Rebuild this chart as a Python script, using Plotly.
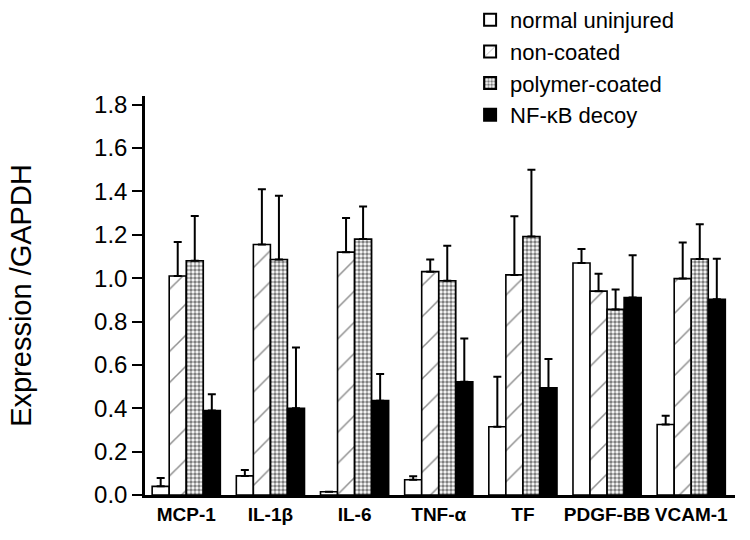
import plotly.graph_objects as go

categories = ["<b>MCP-1</b>", "<b>IL-1β</b>", "<b>IL-6</b>", "<b>TNF-α</b>", "<b>TF</b>", "<b>PDGF-BB</b>", "<b>VCAM-1</b>"]
series_names = ["normal uninjured", "non-coated", "polymer-coated", "NF-κB decoy"]

normal = [0.04, 0.088, 0.015, 0.07, 0.315, 1.07, 0.325]
normal_err = [0.038, 0.027, 0.0, 0.017, 0.23, 0.065, 0.04]
noncoated = [1.01, 1.155, 1.12, 1.03, 1.015, 0.94, 0.998]
noncoated_err = [0.157, 0.255, 0.157, 0.056, 0.27, 0.08, 0.166]
polymer = [1.08, 1.086, 1.18, 0.988, 1.192, 0.856, 1.088]
polymer_err = [0.207, 0.294, 0.15, 0.161, 0.308, 0.092, 0.161]
decoy = [0.39, 0.40, 0.435, 0.522, 0.494, 0.911, 0.903]
decoy_err = [0.075, 0.28, 0.123, 0.2, 0.133, 0.195, 0.187]

values = [normal, noncoated, polymer, decoy]
errors = [normal_err, noncoated_err, polymer_err, decoy_err]
patterns = [
    dict(shape=""),
    dict(shape="/", size=22, solidity=0.07, fgcolor="#222222", bgcolor="white", fillmode="overlay"),
    dict(shape=".", size=4, solidity=0.6, fgcolor="black", bgcolor="white", fillmode="overlay"),
    dict(shape=""),
]
fills = ["white", "white", "white", "black"]

fig = go.Figure()
for name, v, e, p, f in zip(series_names, values, errors, patterns, fills):
    fig.add_trace(go.Bar(
        x=categories, y=v, name=name,
        marker=dict(color=f, line=dict(color="black", width=1.6), pattern=p),
        error_y=dict(type="data", array=e, arrayminus=[0] * len(e), symmetric=False,
                     color="black", thickness=2, width=4),
    ))

fig.update_layout(
    width=750, height=540,
    barmode="group", bargap=0.19, bargroupgap=0,
    paper_bgcolor="white", plot_bgcolor="white",
    margin=dict(l=145, r=15, t=96, b=45, autoexpand=False),
    font=dict(family="Liberation Sans, Arial, sans-serif", color="black"),
    showlegend=True,
    legend=dict(x=0.551, y=1.243, xanchor="left", yanchor="top",
                font=dict(size=22), bgcolor="rgba(0,0,0,0)", tracegroupgap=0,
                itemsizing="constant"),
    xaxis=dict(range=[-0.49, 6.52], showline=True, linecolor="black", linewidth=2.5,
               ticks="", tickfont=dict(size=19), showgrid=False, zeroline=False),
    yaxis=dict(range=[0, 1.84], tickvals=[0, 0.2, 0.4, 0.6, 0.8, 1.0, 1.2, 1.4, 1.6, 1.8],
               tickformat=".1f", showline=True, linecolor="black", linewidth=2.5,
               ticks="outside", ticklen=10, tickwidth=2, tickcolor="black",
               tickfont=dict(size=24), showgrid=False, zeroline=False,
               title=dict(text="Expression /GAPDH", font=dict(size=29), standoff=54)),
)

fig.write_html("out.html", config={"displayModeBar": False},
               post_script="document.body.style.margin='0';")
